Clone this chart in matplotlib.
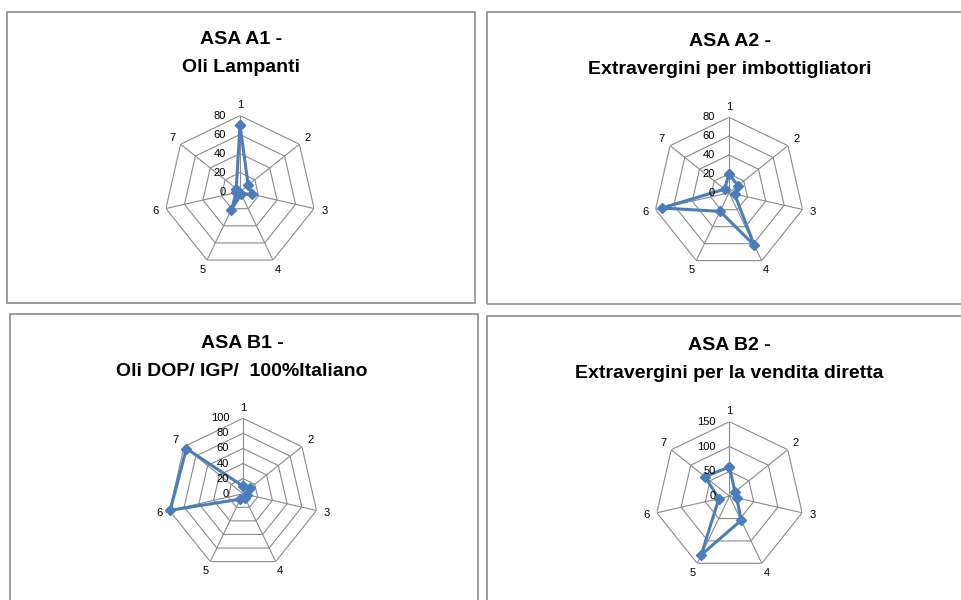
import numpy as np
import matplotlib
matplotlib.use('Agg')
import matplotlib.pyplot as plt
from matplotlib.patches import Rectangle

plt.rcParams['font.family'] = ['Liberation Sans', 'DejaVu Sans']

# Spokes of every radar
categories = ['1', '2', '3', '4', '5', '6', '7']

# Scores per ASA
a1_values = [70, 11, 13, 3, 21, 4, 5]
a2_values = [20, 12, 6, 62, 22, 73, 6]
b1_values = [10, 12, 5, 6, 8, 99, 96]
b2_values = [59, 14, 15, 54, 131, 22, 63]

# Radial scales
a1_ticks = [0, 20, 40, 60, 80]
a2_ticks = [0, 20, 40, 60, 80]
b1_ticks = [0, 20, 40, 60, 80, 100]
b2_ticks = [0, 50, 100, 150]

a1_title = ['ASA A1 -', 'Oli Lampanti']
a2_title = ['ASA A2 -', 'Extravergini per imbottigliatori']
b1_title = ['ASA B1 -', 'Oli DOP/ IGP/  100%Italiano']
b2_title = ['ASA B2 -', 'Extravergini per la vendita diretta']

W, H = 962, 600
grid_color = '#8a8a8a'
line_color = '#4A7EBB'

fig = plt.figure(figsize=(W / 100, H / 100), dpi=100)


def frame(x0, y0, x1, y1):
    # pixel box measured from the top-left corner
    fig.patches.append(Rectangle((x0 / W, 1 - y1 / H), (x1 - x0) / W, (y1 - y0) / H,
                                 transform=fig.transFigure, fill=False,
                                 edgecolor='#8c8c8c', lw=1.2))


def title(cx, y, lines):
    fig.text(cx / W, 1 - y / H, lines[0], ha='center', va='center',
             fontsize=14, fontweight='bold')
    fig.text(cx / W, 1 - (y + 28) / H, lines[1], ha='center', va='center',
             fontsize=14, fontweight='bold')


def radar(cx, cy, r, values, ticks):
    ax = fig.add_axes([(cx - r) / W, 1 - (cy + r) / H, 2 * r / W, 2 * r / H],
                      projection='polar')
    ax.set_theta_zero_location('N')
    ax.set_theta_direction(-1)
    theta = np.linspace(0, 2 * np.pi, len(categories), endpoint=False)
    closed = np.append(theta, theta[0])
    top = ticks[-1]
    for t in ticks[1:]:
        ax.plot(closed, [t] * len(closed), color=grid_color, lw=0.8)
    for th in theta:
        ax.plot([th, th], [0, top], color=grid_color, lw=0.8)
    for th, lab in zip(theta, categories):
        ax.text(th, top * 1.14, lab, ha='center', va='center', fontsize=8)
    for t in ticks:
        ax.annotate(str(t), xy=(0, t), xytext=(-10, 0), textcoords='offset points',
                    ha='right', va='center', fontsize=8)
    vals = list(values) + [values[0]]
    ax.plot(closed, vals, color=line_color, lw=2.2, marker='D', ms=5, clip_on=False)
    ax.set_ylim(0, top)
    ax.grid(False)
    ax.set_xticks([])
    ax.set_yticks([])
    ax.spines['polar'].set_visible(False)
    ax.patch.set_visible(False)
    return ax


frame(7, 12, 475, 303)
frame(487, 12, 975, 304)
frame(10, 314, 478, 610)
frame(487, 316, 975, 610)

title(241, 40, a1_title)
title(730, 41, a2_title)
title(242, 343, b1_title)
title(729, 345, b2_title)

radar(240, 191.6, 76, a1_values, a1_ticks)
radar(729, 192.7, 75.4, a2_values, a2_ticks)
radar(243, 493.7, 75.4, b1_values, b1_ticks)
radar(729.5, 496.2, 74.5, b2_values, b2_ticks)

fig.savefig('out.png', dpi=100)
